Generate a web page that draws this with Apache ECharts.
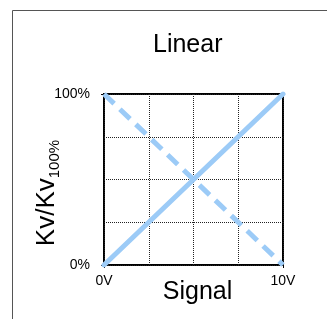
<!DOCTYPE html>
<html>
<head>
<meta charset="utf-8">
<script src="https://cdn.jsdelivr.net/npm/echarts@6/dist/echarts.min.js"></script>
<style>
  html, body { margin: 0; padding: 0; background: #fff; }
  #main { width: 327px; height: 319px; }
</style>
</head>
<body>
<div id="main"></div>
<script>
// signal (V) and Kv/Kv100% (%)
const signal = [0, 10];
const openRising = [0, 100];
const openFalling = [100, 0];
const xTickLabels = [0, 10];
const yTickLabels = [0, 100];

const lineColor = '#9ccbf7';
const font = 'Liberation Sans, Arial, sans-serif';
const gridLine = { show: true, lineStyle: { type: [1, 1], color: '#222', width: 1 } };

let myChart = echarts.init(document.getElementById('main'));
let option = {
  animation: false,
  textStyle: { fontFamily: font },
  title: {
    text: 'Linear',
    left: 148,
    top: 28,
    textStyle: { fontSize: 25, fontWeight: 'normal', color: '#000', fontFamily: font }
  },
  graphic: [
    {
      type: 'rect',
      shape: { x: 12.5, y: 10.5, width: 330, height: 330 },
      style: { fill: 'none', stroke: '#555', lineWidth: 1 },
      silent: true
    },
    {
      type: 'text',
      x: 47, y: 193,
      rotation: Math.PI / 2,
      style: {
        text: '{a|Kv/Kv}{s|100%}',
        align: 'center', verticalAlign: 'middle',
        rich: {
          a: { fontSize: 26, fill: '#000', fontFamily: font, lineHeight: 30, verticalAlign: 'middle' },
          s: { fontSize: 15, fill: '#000', fontFamily: font, lineHeight: 10, verticalAlign: 'bottom' }
        }
      },
      silent: true
    }
  ],
  grid: {
    left: 104, right: 44, top: 94, bottom: 54,
    outerBoundsMode: 'none',
    show: true, borderColor: '#000', borderWidth: 2, backgroundColor: 'transparent'
  },
  xAxis: [
    {
      type: 'value', min: 0, max: 10, interval: 2.5,
      axisLine: { show: false }, axisTick: { show: false }, axisLabel: { show: false },
      splitLine: gridLine
    },
    {
      type: 'value', min: 0, max: 10, position: 'bottom',
      name: 'Signal', nameLocation: 'middle', nameGap: 15, nameMoveOverlap: false,
      nameTextStyle: { fontSize: 25, color: '#000', fontFamily: font, padding: [0, 0, 0, 8] },
      axisLine: { show: false },
      axisTick: { show: true, length: 3, customValues: xTickLabels, lineStyle: { color: '#000' } },
      axisLabel: {
        customValues: xTickLabels, margin: 9, fontSize: 14, color: '#000',
        formatter: v => v + 'V'
      },
      splitLine: { show: false }
    }
  ],
  yAxis: [
    {
      type: 'value', min: 0, max: 100, interval: 25,
      axisLine: { show: false }, axisTick: { show: false }, axisLabel: { show: false },
      splitLine: gridLine
    },
    {
      type: 'value', min: 0, max: 100, position: 'left',
      axisLine: { show: false },
      axisTick: { show: true, length: 3, customValues: yTickLabels, lineStyle: { color: '#000' } },
      axisLabel: {
        customValues: yTickLabels, margin: 14, fontSize: 14, color: '#000',
        formatter: v => v + '%'
      },
      splitLine: { show: false }
    }
  ],
  series: [
    {
      type: 'line',
      data: signal.map((s, i) => [s, openRising[i]]),
      symbol: 'none',
      lineStyle: { color: lineColor, width: 5, cap: 'round' },
      z: 3
    },
    {
      type: 'line',
      data: signal.map((s, i) => [s, openFalling[i]]),
      symbol: 'none',
      lineStyle: { color: lineColor, width: 5, type: [14, 8], cap: 'butt' },
      z: 3
    }
  ]
};
myChart.setOption(option);
</script>
</body>
</html>
